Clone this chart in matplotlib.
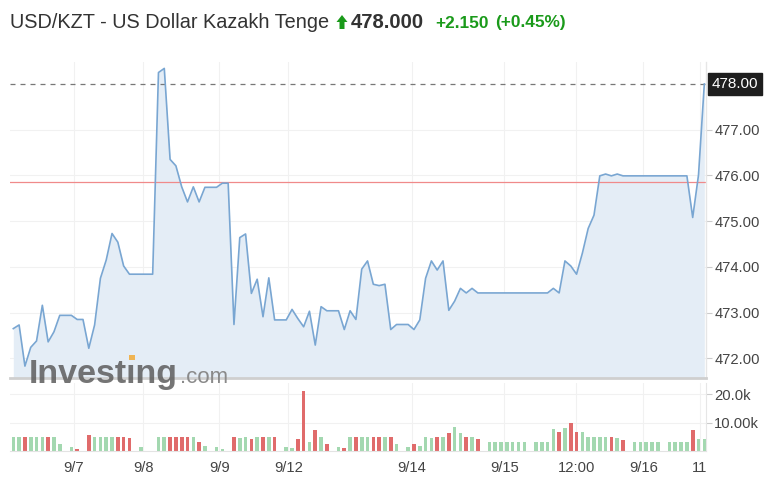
import matplotlib
matplotlib.use("Agg")
import matplotlib.pyplot as plt
from matplotlib.patches import Polygon, Rectangle
import numpy as np

plt.rcParams['font.family'] = ['Liberation Sans', 'DejaVu Sans']

# ---------------- data ----------------
title = "USD/KZT - US Dollar Kazakh Tenge"
last_price = "478.000"
change = "+2.150"
change_pct = "(+0.45%)"
prev_close = 475.85
last_value = 478.00

price = [472.65, 472.73, 471.83, 472.24, 472.38, 473.16, 472.36, 472.58, 472.94, 472.94,
         472.94, 472.85, 472.85, 472.22, 472.73, 473.75, 474.15, 474.73, 474.54, 474.02,
         473.84, 473.84, 473.84, 473.84, 473.84, 478.25, 478.34, 476.35, 476.21, 475.75,
         475.42, 475.75, 475.42, 475.74, 475.74, 475.74, 475.83, 475.83, 472.74, 474.64,
         474.72, 473.42, 473.73, 472.91, 473.76, 472.84, 472.84, 472.84, 473.07, 472.87,
         472.69, 473.03, 472.29, 473.13, 473.04, 473.04, 473.04, 472.63, 473.04, 472.85,
         473.95, 474.13, 473.62, 473.59, 473.62, 472.63, 472.74, 472.74, 472.74, 472.63,
         472.84, 473.75, 474.13, 473.93, 474.13, 473.05, 473.25, 473.53, 473.43, 473.53,
         473.43, 473.43, 473.43, 473.43, 473.43, 473.43, 473.43, 473.43, 473.43, 473.43,
         473.43, 473.43, 473.43, 473.53, 473.43, 474.13, 474.02, 473.84, 474.30, 474.84,
         475.13, 475.99, 476.03, 475.99, 476.03, 475.99, 475.99, 475.99, 475.99, 475.99,
         475.99, 475.99, 475.99, 475.99, 475.99, 475.99, 475.99, 475.08, 476.01, 478.00]

volume_k = [5.0, 4.8, 5.0, 5.0, 5.0, 5.0, 5.0, 5.0, 2.4, 0.0,
            1.4, 0.7, 0.0, 5.7, 5.0, 5.0, 5.0, 5.0, 5.0, 5.0,
            4.7, 0.0, 1.5, 0.0, 0.0, 5.0, 5.0, 5.0, 5.0, 5.0,
            5.0, 5.0, 3.3, 1.9, 0.0, 1.4, 0.7, 0.0, 5.1, 4.5,
            5.1, 4.3, 5.1, 5.1, 5.1, 4.8, 0.0, 1.5, 1.2, 4.3,
            21.2, 3.3, 7.5, 5.1, 2.4, 0.0, 1.5, 1.0, 5.1, 5.1,
            5.1, 5.1, 5.1, 5.1, 5.1, 5.1, 2.4, 0.0, 1.5, 2.4,
            1.9, 4.8, 4.5, 5.1, 5.1, 6.2, 8.6, 6.5, 5.1, 5.1,
            4.1, 0.0, 3.3, 3.3, 3.3, 3.3, 3.3, 3.3, 3.3, 0.0,
            3.3, 3.3, 3.3, 7.6, 6.8, 8.0, 10.0, 6.8, 6.8, 5.1,
            5.1, 5.1, 5.1, 5.1, 4.5, 3.9, 0.0, 3.3, 3.3, 3.3,
            3.3, 3.3, 0.0, 3.3, 3.3, 3.3, 3.3, 7.4, 4.2, 4.2]

x_tick_labels = ["9/7", "9/8", "9/9", "9/12", "9/14", "9/15", "12:00", "9/16", "11"]
price_ticks = [472, 473, 474, 475, 476, 477]
volume_ticks = [10000, 20000]
volume_tick_labels = ["10.00k", "20.0k"]

# ---------------- layout ----------------
W, H = 773, 488
x_tick_pos = [10.45, 22.39, 35.47, 47.36, 68.61, 84.55, 96.95, 108.49, 118.25]

fig = plt.figure(figsize=(W / 100, H / 100), dpi=100)
fig.patch.set_facecolor("white")

def fx(px):
    return px / W

def fy(py):
    return 1 - py / H

L, R = 10, 706
ax = fig.add_axes([fx(L), fy(378), (R - L) / W, (378 - 62) / H])
axv = fig.add_axes([fx(L), fy(451), (R - L) / W, (451 - 383) / H])

x = np.arange(len(price))
xlim = (-0.57, 119.29)
ymin, ymax = 471.57, 478.48

line_color = "#79a6d2"
fill_color = "#e4edf6"
grid_color = "#f1f1f1"
text_color = "#444444"

# price panel
ax.fill_between(x, price, ymin, color=fill_color, zorder=1, linewidth=0)
ax.plot(x, price, color=line_color, lw=1.2, zorder=3)
ax.axhline(prev_close, color="#f08a8a", lw=0.9, zorder=2)
ax.axhline(last_value, color="#777777", lw=0.9, ls=(0, (4, 4)), zorder=2)
ax.set_xlim(*xlim)
ax.set_ylim(ymin, ymax)
for t in price_ticks:
    ax.axhline(t, color=grid_color, lw=0.8, zorder=0)
for p in x_tick_pos:
    ax.axvline(p, color=grid_color, lw=0.8, zorder=0)
ax.yaxis.tick_right()
ax.set_yticks(price_ticks)
ax.set_yticklabels([f"{v:.2f}" for v in price_ticks])
ax.tick_params(axis="y", length=4, width=0.8, color="#cccccc", pad=2,
               labelsize=10.6, labelcolor=text_color)
ax.set_xticks([])
for s in ["top", "left"]:
    ax.spines[s].set_visible(False)
ax.spines["bottom"].set_color("#cfcfcf")
ax.spines["bottom"].set_linewidth(2)
ax.spines["right"].set_color("#e6e6e6")
ax.spines["right"].set_linewidth(1)
ax.patch.set_alpha(0)

# last price box
ax.annotate(f"{last_value:.2f}", xy=(1.0, last_value), xycoords=("axes fraction", "data"),
            xytext=(4, 0), textcoords="offset points", ha="left", va="center",
            fontsize=11, color="white",
            bbox=dict(boxstyle="square,pad=0.25", fc="#1e1e1e", ec="#1e1e1e"),
            annotation_clip=False, zorder=10)

# watermark (dotless i with orange dot)
wm_kw = dict(fontsize=24.5, fontweight="bold", color="#5d5d5d", alpha=0.85,
             ha="left", va="baseline", zorder=20)
wm = fig.text(fx(29), fy(383), "Investıng", **wm_kw)
fig.canvas.draw()
renderer = fig.canvas.get_renderer()
wm_end = wm.get_window_extent(renderer).x1
fig.text(wm_end / W + 1.5 / W, fy(383), ".com", fontsize=16, color="#8a8a8a",
         ha="left", va="baseline", zorder=20)
probe = fig.text(fx(29), fy(383), "Invest", **wm_kw)
probe_i = fig.text(fx(29), fy(383), "Investı", **wm_kw)
x0 = probe.get_window_extent(renderer).x1
x1 = probe_i.get_window_extent(renderer).x1
probe.remove()
probe_i.remove()
cx = (x0 + x1) / 2
dot = 5.5
fig.patches.append(Rectangle((fx(cx - dot / 2), fy(360)), dot / W, dot / H,
                             transform=fig.transFigure, fc="#f0b14a", ec="none",
                             zorder=21, alpha=0.95))

# volume panel
vol = [v * 1000 for v in volume_k]
colors = ["#a3d8b0" if i == 0 or price[i] >= price[i - 1] else "#e06b6b" for i in range(len(price))]
axv.bar(x, vol, width=0.62, color=colors, zorder=2)
axv.set_xlim(*xlim)
axv.set_ylim(0, 24000)
for p in x_tick_pos:
    axv.axvline(p, color=grid_color, lw=0.8, zorder=0)
for t in volume_ticks:
    axv.axhline(t, color=grid_color, lw=0.8, zorder=0)
axv.yaxis.tick_right()
axv.set_yticks(volume_ticks)
axv.set_yticklabels(volume_tick_labels)
axv.tick_params(axis="y", length=4, width=0.8, color="#cccccc", pad=2,
                labelsize=10.6, labelcolor=text_color)
axv.set_xticks(x_tick_pos)
axv.set_xticklabels(x_tick_labels)
axv.tick_params(axis="x", length=0, pad=7, labelsize=10.6, labelcolor=text_color)
for s in ["top", "left"]:
    axv.spines[s].set_visible(False)
axv.spines["bottom"].set_color("#e3e3e3")
axv.spines["right"].set_color("#e6e6e6")
axv.patch.set_alpha(0)

# header
fig.text(fx(10), fy(23), title, fontsize=14.3, color="#333333", ha="left", va="center")
arrow_px = [(342, 15), (347.5, 22), (344.5, 22), (344.5, 29), (339.5, 29), (339.5, 22), (336.5, 22)]
fig.patches.append(Polygon([(fx(a), fy(b)) for a, b in arrow_px], closed=True,
                           transform=fig.transFigure, fc="#1a9a1a", ec="none"))
fig.text(fx(351), fy(23), last_price, fontsize=14.6, fontweight="bold", color="#333333",
         ha="left", va="center")
fig.text(fx(435), fy(23), change, fontsize=12.4, fontweight="bold", color="#1a9a1a",
         ha="left", va="center")
fig.text(fx(495), fy(23), change_pct, fontsize=12.4, fontweight="bold", color="#1a9a1a",
         ha="left", va="center")

fig.savefig("out.png", dpi=100)
